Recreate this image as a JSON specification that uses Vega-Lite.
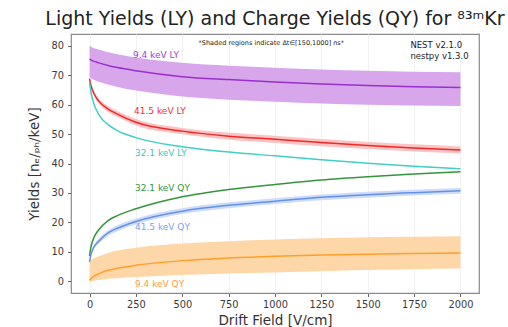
{
  "$schema": "https://vega.github.io/schema/vega-lite/v6.json",
  "autosize": {"type": "none"},
  "padding": {"left": 71, "top": 34, "right": 29, "bottom": 34},
  "width": 408,
  "height": 259,
  "background": "white",
  "config": {
    "font": "DejaVu Sans",
    "view": {"stroke": "#8a8a8a", "strokeWidth": 1.2},
    "axis": {
      "domain": false,
      "tickColor": "#666666",
      "tickSize": 3.5,
      "labelColor": "#3a3a3a",
      "labelFontSize": 9.8,
      "labelFont": "DejaVu Sans",
      "titleFont": "DejaVu Sans",
      "titleFontSize": 13.5,
      "titleFontWeight": "normal",
      "titleColor": "#333333"
    }
  },
  "title": {
    "text": "Light Yields (LY) and Charge Yields (QY) for ⁸³ᵐKr",
    "fontSize": 19,
    "fontWeight": "normal",
    "font": "DejaVu Sans",
    "color": "#222222",
    "anchor": "middle",
    "offset": 5
  },
  "datasets": {
    "curves": [
      {"s": "LY9", "x": 0, "y": 75.5, "lo": 69.3, "hi": 80.0},
      {"s": "LY9", "x": 5, "y": 75.3, "lo": 69.1, "hi": 79.8},
      {"s": "LY9", "x": 10, "y": 75.1, "lo": 68.9, "hi": 79.6},
      {"s": "LY9", "x": 25, "y": 74.7, "lo": 68.4, "hi": 79.2},
      {"s": "LY9", "x": 50, "y": 74.2, "lo": 67.8, "hi": 78.7},
      {"s": "LY9", "x": 100, "y": 73.3, "lo": 66.8, "hi": 77.8},
      {"s": "LY9", "x": 150, "y": 72.6, "lo": 66.0, "hi": 77.1},
      {"s": "LY9", "x": 250, "y": 71.5, "lo": 64.8, "hi": 76.0},
      {"s": "LY9", "x": 500, "y": 69.5, "lo": 62.8, "hi": 74.2},
      {"s": "LY9", "x": 750, "y": 68.5, "lo": 61.7, "hi": 73.2},
      {"s": "LY9", "x": 1000, "y": 67.7, "lo": 61.0, "hi": 72.5},
      {"s": "LY9", "x": 1250, "y": 67.0, "lo": 60.4, "hi": 71.9},
      {"s": "LY9", "x": 1500, "y": 66.5, "lo": 60.0, "hi": 71.5},
      {"s": "LY9", "x": 1750, "y": 66.1, "lo": 59.7, "hi": 71.2},
      {"s": "LY9", "x": 2000, "y": 65.8, "lo": 59.5, "hi": 71.0},

      {"s": "LY41", "x": 0, "y": 68.8, "lo": 68.2, "hi": 69.4},
      {"s": "LY41", "x": 5, "y": 67.2, "lo": 66.6, "hi": 67.8},
      {"s": "LY41", "x": 10, "y": 66.0, "lo": 65.3, "hi": 66.7},
      {"s": "LY41", "x": 25, "y": 63.6, "lo": 62.8, "hi": 64.4},
      {"s": "LY41", "x": 50, "y": 61.2, "lo": 60.3, "hi": 62.1},
      {"s": "LY41", "x": 100, "y": 58.5, "lo": 57.5, "hi": 59.5},
      {"s": "LY41", "x": 150, "y": 56.8, "lo": 55.8, "hi": 57.8},
      {"s": "LY41", "x": 250, "y": 54.0, "lo": 52.9, "hi": 55.1},
      {"s": "LY41", "x": 500, "y": 51.0, "lo": 49.9, "hi": 52.1},
      {"s": "LY41", "x": 750, "y": 49.3, "lo": 48.1, "hi": 50.5},
      {"s": "LY41", "x": 1000, "y": 48.2, "lo": 47.0, "hi": 49.4},
      {"s": "LY41", "x": 1250, "y": 47.1, "lo": 45.9, "hi": 48.3},
      {"s": "LY41", "x": 1500, "y": 46.1, "lo": 44.9, "hi": 47.3},
      {"s": "LY41", "x": 1750, "y": 45.3, "lo": 44.1, "hi": 46.5},
      {"s": "LY41", "x": 2000, "y": 44.6, "lo": 43.4, "hi": 45.8},

      {"s": "LY32", "x": 0, "y": 67.5},
      {"s": "LY32", "x": 5, "y": 65.3},
      {"s": "LY32", "x": 10, "y": 63.5},
      {"s": "LY32", "x": 25, "y": 60.0},
      {"s": "LY32", "x": 50, "y": 56.6},
      {"s": "LY32", "x": 100, "y": 53.2},
      {"s": "LY32", "x": 150, "y": 51.2},
      {"s": "LY32", "x": 250, "y": 48.8},
      {"s": "LY32", "x": 500, "y": 45.7},
      {"s": "LY32", "x": 750, "y": 43.9},
      {"s": "LY32", "x": 1000, "y": 42.6},
      {"s": "LY32", "x": 1250, "y": 41.3},
      {"s": "LY32", "x": 1500, "y": 40.1},
      {"s": "LY32", "x": 1750, "y": 39.1},
      {"s": "LY32", "x": 2000, "y": 38.2},

      {"s": "QY32", "x": 0, "y": 8.5},
      {"s": "QY32", "x": 5, "y": 10.8},
      {"s": "QY32", "x": 10, "y": 12.3},
      {"s": "QY32", "x": 25, "y": 15.0},
      {"s": "QY32", "x": 50, "y": 17.5},
      {"s": "QY32", "x": 100, "y": 20.6},
      {"s": "QY32", "x": 150, "y": 22.3},
      {"s": "QY32", "x": 250, "y": 24.6},
      {"s": "QY32", "x": 500, "y": 28.7},
      {"s": "QY32", "x": 750, "y": 31.2},
      {"s": "QY32", "x": 1000, "y": 32.9},
      {"s": "QY32", "x": 1250, "y": 34.4},
      {"s": "QY32", "x": 1500, "y": 35.5},
      {"s": "QY32", "x": 1750, "y": 36.4},
      {"s": "QY32", "x": 2000, "y": 37.2},

      {"s": "QY41", "x": 0, "y": 6.6, "lo": 6.1, "hi": 7.1},
      {"s": "QY41", "x": 5, "y": 8.3, "lo": 7.7, "hi": 8.9},
      {"s": "QY41", "x": 10, "y": 9.6, "lo": 8.9, "hi": 10.3},
      {"s": "QY41", "x": 25, "y": 11.8, "lo": 11.0, "hi": 12.6},
      {"s": "QY41", "x": 50, "y": 13.6, "lo": 12.7, "hi": 14.5},
      {"s": "QY41", "x": 100, "y": 16.4, "lo": 15.5, "hi": 17.3},
      {"s": "QY41", "x": 150, "y": 18.0, "lo": 17.0, "hi": 19.0},
      {"s": "QY41", "x": 250, "y": 20.3, "lo": 19.3, "hi": 21.3},
      {"s": "QY41", "x": 500, "y": 23.8, "lo": 22.8, "hi": 24.8},
      {"s": "QY41", "x": 750, "y": 25.8, "lo": 24.8, "hi": 26.8},
      {"s": "QY41", "x": 1000, "y": 27.2, "lo": 26.2, "hi": 28.2},
      {"s": "QY41", "x": 1250, "y": 28.5, "lo": 27.5, "hi": 29.5},
      {"s": "QY41", "x": 1500, "y": 29.4, "lo": 28.4, "hi": 30.4},
      {"s": "QY41", "x": 1750, "y": 30.1, "lo": 29.1, "hi": 31.1},
      {"s": "QY41", "x": 2000, "y": 30.7, "lo": 29.7, "hi": 31.7},

      {"s": "QY9", "x": 0, "y": 0.3, "lo": -0.2, "hi": 6.3},
      {"s": "QY9", "x": 5, "y": 0.7, "lo": -0.1, "hi": 6.8},
      {"s": "QY9", "x": 10, "y": 1.0, "lo": 0.0, "hi": 7.2},
      {"s": "QY9", "x": 25, "y": 1.7, "lo": 0.2, "hi": 7.8},
      {"s": "QY9", "x": 50, "y": 2.5, "lo": 0.4, "hi": 8.5},
      {"s": "QY9", "x": 100, "y": 3.7, "lo": 0.8, "hi": 9.6},
      {"s": "QY9", "x": 150, "y": 4.4, "lo": 1.0, "hi": 10.4},
      {"s": "QY9", "x": 250, "y": 5.4, "lo": 1.4, "hi": 11.4},
      {"s": "QY9", "x": 500, "y": 7.0, "lo": 2.1, "hi": 12.8},
      {"s": "QY9", "x": 750, "y": 7.9, "lo": 2.6, "hi": 13.6},
      {"s": "QY9", "x": 1000, "y": 8.5, "lo": 3.0, "hi": 14.2},
      {"s": "QY9", "x": 1250, "y": 8.9, "lo": 3.4, "hi": 14.6},
      {"s": "QY9", "x": 1500, "y": 9.2, "lo": 3.8, "hi": 14.9},
      {"s": "QY9", "x": 1750, "y": 9.4, "lo": 4.1, "hi": 15.1},
      {"s": "QY9", "x": 2000, "y": 9.6, "lo": 4.3, "hi": 15.3}
    ],
    "labels": [
      {"s": "LY9", "text": "9.4 keV LY", "x": 234, "y": 76.9},
      {"s": "LY41", "text": "41.5 keV LY", "x": 240, "y": 57.8},
      {"s": "LY32", "text": "32.1 keV LY", "x": 245, "y": 43.4},
      {"s": "QY32", "text": "32.1 keV QY", "x": 245, "y": 31.7},
      {"s": "QY41", "text": "41.5 keV QY", "x": 245, "y": 18.3},
      {"s": "QY9", "text": "9.4 keV QY", "x": 245, "y": -0.8}
    ],
    "notes": [
      {"text": "*Shaded regions indicate Δt∈[150,1000] ns*", "x": 980, "y": 80.8}
    ],
    "versions": [
      {"text": "NEST v2.1.0", "x": 1730, "y": 80.3},
      {"text": "nestpy v1.3.0", "x": 1730, "y": 76.4}
    ]
  },
  "data": {"name": "curves"},
  "encoding": {
    "x": {
      "field": "x",
      "type": "quantitative",
      "scale": {"domain": [-100, 2100], "nice": false, "zero": false},
      "axis": {
        "title": "Drift Field [V/cm]",
        "values": [0, 250, 500, 750, 1000, 1250, 1500, 1750, 2000],
        "format": "d",
        "grid": true,
        "gridColor": "#f1f1f1",
        "labelPadding": 3,
        "titlePadding": 4
      }
    },
    "y": {
      "field": "y",
      "type": "quantitative",
      "scale": {"domain": [-4, 84], "nice": false, "zero": false},
      "axis": {
        "title": "Yields [nₑ/ₚₕ/keV]",
        "values": [0, 10, 20, 30, 40, 50, 60, 70, 80],
        "grid": false,
        "labelPadding": 4,
        "titlePadding": 10
      }
    }
  },
  "layer": [
    {
      "transform": [{"filter": "isValid(datum.lo)"}],
      "mark": {"type": "area", "interpolate": "monotone", "opacity": 1},
      "encoding": {
        "y": {"field": "lo", "type": "quantitative"},
        "y2": {"field": "hi"},
        "fill": {
          "field": "s",
          "type": "nominal",
          "legend": null,
          "scale": {
            "domain": ["LY9", "LY41", "QY41", "QY9"],
            "range": ["#d8a6ea", "#fcc3c3", "#cddcf8", "#fed7a9"]
          }
        },
        "detail": {"field": "s"}
      }
    },
    {
      "mark": {"type": "line", "interpolate": "monotone", "strokeWidth": 1.5},
      "encoding": {
        "stroke": {
          "field": "s",
          "type": "nominal",
          "legend": null,
          "scale": {
            "domain": ["LY9", "LY41", "LY32", "QY32", "QY41", "QY9"],
            "range": ["#9a2fd0", "#f02828", "#3fcfc6", "#32973a", "#6690e8", "#ff9f2a"]
          }
        }
      }
    },
    {
      "data": {"name": "labels"},
      "mark": {"type": "text", "align": "left", "baseline": "middle", "fontSize": 9, "font": "DejaVu Sans"},
      "encoding": {
        "text": {"field": "text"},
        "color": {
          "field": "s",
          "type": "nominal",
          "legend": null,
          "scale": {
            "domain": ["LY9", "LY41", "LY32", "QY32", "QY41", "QY9"],
            "range": ["#a23ee0", "#f23030", "#3cc8c0", "#32973a", "#7ea0f0", "#ffa033"]
          }
        }
      }
    },
    {
      "data": {"name": "notes"},
      "mark": {"type": "text", "align": "center", "baseline": "middle", "fontSize": 6.5, "color": "#222222"},
      "encoding": {"text": {"field": "text"}}
    },
    {
      "data": {"name": "versions"},
      "mark": {"type": "text", "align": "left", "baseline": "middle", "fontSize": 8.5, "color": "#222222"},
      "encoding": {"text": {"field": "text"}}
    }
  ]
}
